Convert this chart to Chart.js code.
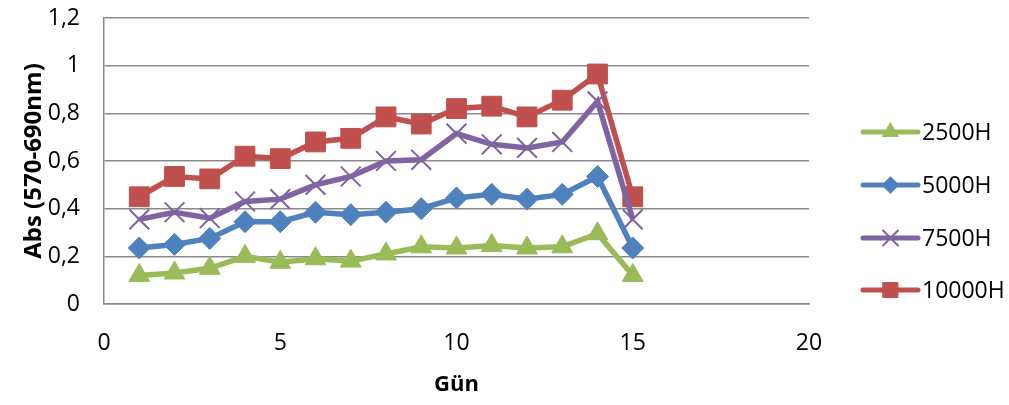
<!DOCTYPE html>
<html>
<head>
<meta charset="utf-8">
<script src="https://cdn.jsdelivr.net/npm/chart.js@4"></script>
<style>
  body { margin: 0; background: #fff; }
  #wrap { width: 1009px; height: 405px; }
</style>
</head>
<body>
<div id="wrap"><canvas id="absChart" width="1009" height="405"></canvas></div>
<script>
// Days (x values)
const days = [1, 2, 3, 4, 5, 6, 7, 8, 9, 10, 11, 12, 13, 14, 15];

// Absorbance values per series
const abs2500 = [0.12, 0.13, 0.15, 0.20, 0.175, 0.19, 0.18, 0.21, 0.24, 0.235, 0.245, 0.235, 0.24, 0.295, 0.12];
const abs5000 = [0.235, 0.25, 0.275, 0.345, 0.345, 0.385, 0.375, 0.385, 0.40, 0.445, 0.46, 0.44, 0.46, 0.535, 0.235];
const abs7500 = [0.355, 0.385, 0.36, 0.43, 0.44, 0.50, 0.535, 0.60, 0.605, 0.715, 0.67, 0.655, 0.68, 0.85, 0.355];
const abs10000 = [0.45, 0.535, 0.525, 0.62, 0.61, 0.68, 0.695, 0.785, 0.755, 0.82, 0.83, 0.785, 0.855, 0.965, 0.45];

const seriesNames = ['2500H', '5000H', '7500H', '10000H'];
const yTicks = [0, 0.2, 0.4, 0.6, 0.8, 1, 1.2];

const FONT = "'Open Sans', 'Noto Sans', sans-serif";

function toPoints(values) {
    return values.map((v, i) => ({ x: days[i], y: v }));
}

function makeDataset(label, values, color, style, radius, borderW) {
    return {
        label: label,
        data: toPoints(values),
        borderColor: color,
        backgroundColor: color,
        borderWidth: 5.5,
        pointStyle: style,
        pointRadius: radius,
        pointBorderWidth: borderW,
        pointBackgroundColor: color,
        pointBorderColor: color,
        tension: 0,
        fill: false
    };
}

// Legend drawn like Excel: short line with marker, then label
const lineLegend = {
    id: 'lineLegend',
    afterDraw(chart) {
        const ctx = chart.ctx;
        const x0 = 863, x1 = 918, textX = 922;
        const rows = [132, 185, 238, 290];
        chart.data.datasets.forEach((ds, i) => {
            const y = rows[i];
            ctx.save();
            ctx.strokeStyle = ds.borderColor;
            ctx.lineWidth = 5;
            ctx.lineCap = 'round';
            ctx.beginPath();
            ctx.moveTo(x0, y);
            ctx.lineTo(x1, y);
            ctx.stroke();
            ctx.fillStyle = ds.borderColor;
            ctx.strokeStyle = ds.borderColor;
            ctx.lineWidth = ds.pointBorderWidth;
            Chart.helpers.drawPoint(ctx, {
                pointStyle: ds.pointStyle,
                radius: ds.pointRadius * 0.75,
                rotation: 0,
                borderWidth: ds.pointBorderWidth
            }, (x0 + x1) / 2, y);
            ctx.fillStyle = '#000';
            ctx.font = '23px ' + FONT;
            ctx.textAlign = 'left';
            ctx.textBaseline = 'middle';
            ctx.fillText(ds.label, textX, y + 1);
            ctx.restore();
        });
    }
};

new Chart(document.getElementById('absChart').getContext('2d'), {
    type: 'line',
    data: {
        datasets: [
            makeDataset(seriesNames[0], abs2500, '#9BBB59', 'triangle', 12, 1),
            makeDataset(seriesNames[1], abs5000, '#4F81BD', 'rectRot', 11, 1),
            makeDataset(seriesNames[2], abs7500, '#8064A2', 'crossRot', 14, 2),
            makeDataset(seriesNames[3], abs10000, '#C0504D', 'rect', 14, 1)
        ]
    },
    options: {
        responsive: false,
        animation: false,
        layout: { padding: { left: 20, right: 200, top: 18, bottom: 7 } },
        plugins: {
            legend: { display: false },
            tooltip: { enabled: false }
        },
        scales: {
            x: {
                type: 'linear',
                min: 0,
                max: 20,
                afterFit: s => { s.height = 94; },
                ticks: {
                    stepSize: 5,
                    padding: 26,
                    color: '#000',
                    font: { family: FONT, size: 23 }
                },
                grid: { display: false, drawTicks: false },
                border: { display: true, color: '#8a8a8a', width: 1.5 },
                title: {
                    display: true,
                    text: 'Gün',
                    color: '#000',
                    padding: 0,
                    font: { family: FONT, size: 22, weight: 'bold' }
                }
            },
            y: {
                min: 0,
                max: 1.2,
                afterFit: s => { s.width = 84; s.paddingTop = 0; s.paddingBottom = 0; },
                afterBuildTicks: s => { s.ticks = yTicks.map(v => ({ value: v })); },
                ticks: {
                    padding: 24,
                    color: '#000',
                    font: { family: FONT, size: 23 },
                    callback: v => String(Math.round(v * 10) / 10).replace('.', ',')
                },
                grid: { color: '#8a8a8a', lineWidth: 1.5, drawTicks: false },
                border: { display: true, color: '#8a8a8a', width: 1.5 },
                title: {
                    display: true,
                    text: 'Abs (570-690nm)',
                    color: '#000',
                    padding: 0,
                    font: { family: FONT, size: 24, weight: 'bold' }
                }
            }
        }
    },
    plugins: [lineLegend]
});
</script>
</body>
</html>
